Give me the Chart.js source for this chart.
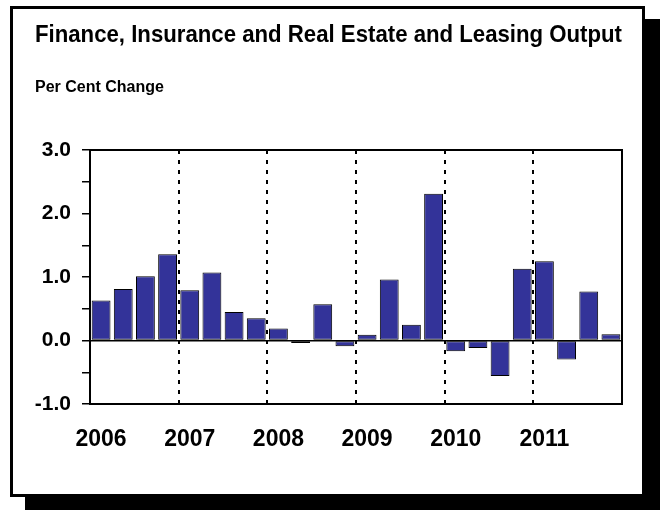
<!DOCTYPE html>
<html>
<head>
<meta charset="utf-8">
<title>Finance, Insurance and Real Estate and Leasing Output</title>
<script src="https://cdn.jsdelivr.net/npm/chart.js@4.4.1/dist/chart.umd.min.js"></script>
<style>
    html, body { margin: 0; padding: 0; background: #fff; }
    #frame {
        position: absolute; left: 10px; top: 6px;
        width: 635px; height: 491px; box-sizing: border-box;
        border: 3px solid #000; background: #fff;
        box-shadow: 15px 13px 0 0 #000;
    }
    #chart { position: absolute; left: 0; top: 0; }
</style>
</head>
<body>
<div id="frame"></div>
<canvas id="chart" width="662" height="510"></canvas>
<script>
// quarterly data, 2006 Q1 .. 2011 Q4
var years = ["2006", "2007", "2008", "2009", "2010", "2011"];
var quarters = ["Q1", "Q2", "Q3", "Q4"];
var pctChange = [0.63, 0.81, 1.01, 1.36, 0.79, 1.07, 0.45, 0.35,
                 0.19, -0.04, 0.57, -0.09, 0.09, 0.96, 0.25, 2.31,
                 -0.17, -0.12, -0.56, 1.13, 1.25, -0.30, 0.77, 0.10];
var yTicks = ["-1.0", "0.0", "1.0", "2.0", "3.0"];

var labels = [];
years.forEach(function (y) {
    quarters.forEach(function (q) { labels.push(y + " " + q); });
});

var textFont = "'Liberation Sans Narrow', 'Liberation Sans', sans-serif";
var numFont = "'Liberation Sans', 'DejaVu Sans', sans-serif";

// solid box around the plot area
var plotFrame = {
    id: "plotFrame",
    afterDraw: function (chart) {
        var a = chart.chartArea, c = chart.ctx;
        c.save();
        c.strokeStyle = "#000";
        c.lineWidth = 2;
        c.strokeRect(a.left, a.top, a.right - a.left, a.bottom - a.top);
        c.restore();
    }
};

var ctx = document.getElementById("chart").getContext("2d");
var myChart = new Chart(ctx, {
    type: "bar",
    data: {
        labels: labels,
        datasets: [{
            label: "Per Cent Change",
            data: pctChange,
            backgroundColor: "#333399",
            borderColor: "#000",
            borderWidth: 1,
            borderSkipped: false,
            barPercentage: 0.85,
            categoryPercentage: 1.0
        }]
    },
    options: {
        responsive: false,
        animation: false,
        devicePixelRatio: 1,
        layout: { padding: { left: 35, right: 40, top: 0, bottom: 46 } },
        plugins: {
            legend: { display: false },
            tooltip: { enabled: false },
            title: {
                display: true,
                text: "Finance, Insurance and Real Estate and Leasing Output",
                align: "start",
                color: "#000",
                font: { family: textFont, size: 24, weight: "bold" },
                padding: { top: 21, bottom: 28.6 }
            },
            subtitle: {
                display: true,
                text: "Per Cent Change",
                align: "start",
                color: "#000",
                font: { family: textFont, size: 16, weight: "bold" },
                padding: { top: 0, bottom: 52.4 }
            }
        },
        scales: {
            x: {
                z: 1,
                offset: true,
                grid: {
                    offset: true,
                    drawTicks: false,
                    lineWidth: 2,
                    color: function (c) {
                        return c.index % 4 === 0 ? "#000" : "transparent";
                    }
                },
                border: { color: "#000", width: 2, dash: [4, 6] },
                ticks: {
                    autoSkip: false,
                    maxRotation: 0,
                    padding: 22,
                    color: "#000",
                    font: { family: numFont, size: 23, weight: "bold" },
                    callback: function (v, i) {
                        return i % 4 === 0 ? years[i / 4] : "";
                    }
                },
                afterFit: function (s) { s.height = 60; }
            },
            y: {
                min: -1,
                max: 3,
                ticks: {
                    stepSize: 0.5,
                    padding: 11,
                    color: "#000",
                    font: { family: numFont, size: 21, weight: "bold" },
                    callback: function (v) {
                        return Number.isInteger(v) ? yTicks[v + 1] : "";
                    }
                },
                grid: {
                    tickLength: 8,
                    tickColor: "#000",
                    tickWidth: 1.5,
                    lineWidth: 1.5,
                    color: function (c) {
                        return c.tick && c.tick.value === 0 ? "#000" : "transparent";
                    }
                },
                border: { color: "#000", width: 2 },
                afterFit: function (s) { s.width = 55; }
            }
        }
    },
    plugins: [plotFrame]
});
</script>
</body>
</html>
